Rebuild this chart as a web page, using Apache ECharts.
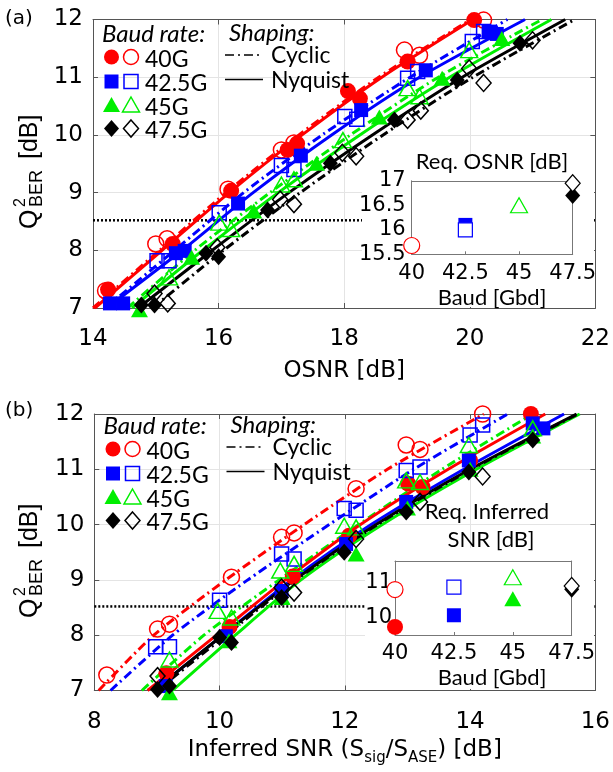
<!DOCTYPE html>
<html><head><meta charset="utf-8">
<script src="https://cdn.jsdelivr.net/npm/echarts@6/dist/echarts.min.js"></script>
<style>html,body{margin:0;padding:0;background:#fff;}#c{width:613px;height:772px;}</style>
</head><body><div id="c"></div>
<script>
// ---------- axis ranges / ticks ----------
const aX = [14, 22, 2];        // OSNR [dB]
const bX = [8, 16, 2];         // Inferred SNR [dB]
const qY = [7, 12, 1];         // Q^2 [dB]
const thrQ = 8.52;             // threshold (dotted)
const insetBaud = [40, 42.5, 45, 47.5];
const iaY = [15.5, 17, 0.5];
const ibY = [9.5, 11.6, 0.5];
const bauds = ['40G', '42.5G', '45G', '47.5G'];

// ---------- panel (a): measured points ----------
const a40N  = [[14.24,7.32],[15.27,8.11],[16.2,9.03],[17.1,9.74],[17.25,9.85],[18.06,10.76],[18.25,10.63],[19.01,11.27],[20.07,11.99]];
const a40C  = [[14.2,7.3],[15.0,8.11],[15.18,8.2],[16.15,9.06],[17.0,9.74],[17.2,9.86],[18.96,11.47],[19.2,11.38],[20.22,11.99]];
const a425N = [[14.27,7.08],[14.48,7.08],[15.32,7.95],[15.46,7.99],[16.31,8.81],[17.31,9.64],[18.27,10.43],[19.3,11.12],[20.3,11.79],[20.43,11.75]];
const a425C = [[15.02,7.82],[15.21,7.82],[16.01,8.65],[17.0,9.47],[17.2,9.4],[18.01,10.32],[18.2,10.27],[19.01,10.98],[19.17,11.1],[20.04,11.62],[20.22,11.79]];
const a45N  = [[14.74,6.97],[15.57,7.88],[16.56,8.68],[17.56,9.51],[18.56,10.31],[19.56,10.98],[20.51,11.67]];
const a45C  = [[15.21,7.53],[16.01,8.48],[16.2,8.37],[17.0,9.14],[17.2,9.23],[17.98,9.91],[19.01,10.81],[19.2,10.67],[19.99,11.47]];
const a475N = [[14.77,7.05],[14.98,7.05],[15.8,7.95],[16.0,7.89],[16.78,8.7],[17.78,9.51],[18.8,10.26],[19.8,10.95],[20.8,11.59]];
const a475C = [[14.98,7.25],[15.19,7.08],[15.98,8.05],[16.98,8.88],[17.2,8.8],[17.97,9.69],[18.19,9.63],[19.01,10.26],[19.22,10.42],[19.99,11.15],[20.22,10.9],[21.0,11.64]];
// ---------- panel (a): fitted curves ----------
const a40NFit  = [[14.03,7],[15.1,8],[16.17,9],[17.33,10],[18.6,11],[20.05,12]];
const a40CFit  = [[14.0,7],[15.06,8],[16.12,9],[17.28,10],[18.55,11],[20.02,12]];
const a425NFit = [[14.22,7],[15.42,8],[16.55,9],[17.8,10],[19.2,11],[20.88,12]];
const a425CFit = [[14.2,7],[15.3,8],[16.4,9],[17.65,10],[19.05,11],[20.6,12]];
const a45NFit  = [[14.62,7],[15.75,8],[16.95,9],[18.25,10],[19.68,11],[21.3,12]];
const a45CFit  = [[14.55,7],[15.62,8],[16.82,9],[18.1,10],[19.5,11],[21.15,12]];
const a475NFit = [[14.72,7],[15.9,8],[17.12,9],[18.45,10],[19.88,11],[21.52,12]];
const a475CFit = [[14.95,7],[16.08,8],[17.3,9],[18.62,10],[20.05,11],[21.67,12]];

// ---------- panel (b): measured points ----------
const b40N  = [[9.15,7.31],[10.16,8.15],[11.17,9.06],[12.07,9.8],[13.01,10.74],[13.24,10.68],[14.0,11.16],[14.97,12.0]];
const b40C  = [[8.2,7.28],[9.01,8.11],[9.2,8.2],[10.19,9.05],[10.99,9.77],[11.19,9.85],[12.18,10.65],[12.98,11.44],[13.2,11.36],[14.2,12.0]];
const b425N = [[9.14,7.08],[10.1,7.98],[10.99,8.8],[12.02,9.65],[12.98,10.41],[13.98,11.16],[15.0,11.83],[15.17,11.74]];
const b425C = [[8.98,7.79],[9.2,7.79],[10.0,8.63],[10.99,9.47],[11.19,9.38],[11.99,10.29],[12.18,10.26],[12.98,10.98],[13.2,11.04],[14.0,11.62],[14.2,11.8]];
const b45N  = [[9.2,6.96],[10.15,7.9],[11.0,8.68],[12.18,9.47],[13.0,10.3],[14.0,11.0],[15.0,11.6]];
const b45C  = [[9.2,7.56],[9.97,8.44],[10.19,8.32],[10.97,9.17],[11.19,9.29],[11.99,9.98],[12.18,9.95],[12.98,10.8],[13.2,10.77],[13.98,11.44],[15.0,11.74]];
const b475N = [[9.01,7.02],[9.2,7.08],[10.0,7.96],[10.19,7.87],[10.99,8.68],[11.99,9.5],[12.98,10.23],[13.98,10.95],[15.0,11.53]];
const b475C = [[9.01,7.26],[10.99,8.86],[11.19,8.77],[12.18,9.74],[13.2,10.41],[14.2,10.87]];
// ---------- panel (b): fitted curves ----------
const b40NFit  = [[8.85,7],[9.95,8],[11.05,9],[12.25,10],[13.65,11],[15.2,12]];
const b40CFit  = [[8.07,7],[8.95,8],[10.1,9],[11.35,10],[12.68,11],[14.22,12]];
const b425NFit = [[8.95,7],[10.05,8],[11.15,9],[12.42,10],[13.9,11],[15.5,12]];
const b425CFit = [[8.26,7],[9.25,8],[10.45,9],[11.75,10],[13.1,11],[14.6,12]];
const b45NFit  = [[9.25,7],[10.25,8],[11.3,9],[12.6,10],[14.1,11],[15.75,12]];
const b45CFit  = [[8.76,7],[9.75,8],[10.95,9],[12.22,10],[13.55,11],[15.0,12]];
const b475NFit = [[8.95,7],[10.05,8],[11.2,9],[12.5,10],[14.0,11],[15.7,12]];
const b475CFit = [[9.0,7],[10.1,8],[11.22,9],[12.52,10],[14.02,11],[15.72,12]];

// ---------- insets: required OSNR / inferred SNR ----------
const iaReqN = [15.68, 16.1, 16.5, 16.7];
const iaReqC = [15.68, 16.0, 16.5, 16.95];
const ibReqN = [9.73, 10.06, 10.53, 10.8];
const ibReqC = [10.79, 10.86, 11.14, 10.89];

// ---------- styling ----------
const COL = ['#ff0000', '#0000ff', '#00ee00', '#000000'];
const SYM = ['circle', 'rect', 'triangle', 'diamond'];
const SZ  = [16, 14, [17, 15], [15, 17]];
const DASHDOT = [9, 4, 2, 4];
const AX = 'DejaVu Sans', LG = 'Lato';
const axCol = '#555';

function fit(xi, data, k, dashed) {
  return { type: 'line', xAxisIndex: xi, yAxisIndex: xi, data, smooth: 0.25,
    showSymbol: false, symbol: 'none', clip: true, silent: true, z: 2,
    lineStyle: { color: COL[k], width: 3, type: dashed ? DASHDOT : 'solid' } };
}
function pts(xi, data, k, filled, z) {
  return { type: 'scatter', xAxisIndex: xi, yAxisIndex: xi, data, symbol: SYM[k], symbolSize: SZ[k],
    clip: false, silent: true, z: z || 3,
    itemStyle: filled ? { color: COL[k], opacity: 1 }
                      : { color: 'rgba(255,255,255,0)', borderColor: COL[k], borderWidth: 1.5, opacity: 1 } };
}
function thr(xi, rng) {
  return { type: 'line', xAxisIndex: xi, yAxisIndex: xi, data: [[rng[0], thrQ], [rng[1], thrQ]],
    showSymbol: false, symbol: 'none', silent: true, z: 1,
    lineStyle: { color: '#000', width: 2.5, type: [2, 2] } };
}
function insetPts(xi, reqN, reqC) {
  const out = [];
  for (let i = 0; i < 4; i++) {
    out.push({ type: 'scatter', xAxisIndex: xi, yAxisIndex: xi, data: [[insetBaud[i], reqN[i]]],
      symbol: SYM[i], symbolSize: SZ[i], clip: false, silent: true, z: 21,
      itemStyle: { color: COL[i], opacity: 1 } });
  }
  for (let i = 0; i < 4; i++) {
    out.push({ type: 'scatter', xAxisIndex: xi, yAxisIndex: xi, data: [[insetBaud[i], reqC[i]]],
      symbol: SYM[i], symbolSize: SZ[i], clip: false, silent: true, z: 22,
      itemStyle: { color: '#ffffff', borderColor: COL[i], borderWidth: 1.2, opacity: 1 } });
  }
  return out;
}

const lbl = { fontFamily: AX, fontSize: 23, color: '#000' };
function mainX(grid, r, pos, name, nameOpt) {
  const o = { gridIndex: grid, type: 'value', min: r[0], max: r[1], interval: r[2], position: pos,
    axisLine: { show: true, onZero: false, lineStyle: { color: axCol, width: 1 } },
    axisTick: { show: true, inside: true, length: 5, lineStyle: { color: axCol } },
    axisLabel: Object.assign({ show: pos === 'bottom', margin: 20 }, lbl),
    splitLine: { show: pos === 'bottom', lineStyle: { color: '#e4e4e4', width: 1 } } };
  if (name) Object.assign(o, { name, nameLocation: 'middle' }, nameOpt);
  return o;
}
function mainY(grid, r, pos) {
  return { gridIndex: grid, type: 'value', min: r[0], max: r[1], interval: r[2], position: pos,
    axisLine: { show: true, onZero: false, lineStyle: { color: axCol, width: 1 } },
    axisTick: { show: true, inside: true, length: 5, lineStyle: { color: axCol } },
    axisLabel: Object.assign({ show: pos === 'left', margin: 10 }, lbl),
    splitLine: { show: pos === 'left', lineStyle: { color: '#e4e4e4', width: 1 } } };
}
function insX(grid, pos, margin) {
  return { gridIndex: grid, type: 'value', min: insetBaud[0], max: insetBaud[3], interval: 2.5, position: pos, z: 20,
    axisLine: { show: true, onZero: false, lineStyle: { color: '#777', width: 1 } },
    axisTick: { show: pos === 'bottom', inside: true, length: 3, lineStyle: { color: '#777' } },
    axisLabel: { show: pos === 'bottom', margin, fontFamily: AX, fontSize: 21, color: '#000' },
    splitLine: { show: false } };
}
function insY(grid, r, pos, margin, fmt) {
  return { gridIndex: grid, type: 'value', min: r[0], max: r[1], interval: r[2], position: pos, z: 20,
    axisLine: { show: true, onZero: false, lineStyle: { color: '#777', width: 1 } },
    axisTick: { show: false },
    axisLabel: { show: pos === 'left', margin, fontFamily: AX, fontSize: 21, color: '#000', formatter: fmt, showMaxLabel: true },
    splitLine: { show: false } };
}
const intOnly = v => (Math.abs(v - Math.round(v)) < 1e-6 ? String(Math.round(v)) : '');

// ---------- legend + annotations (graphic) ----------
function marker(k, cx, cy, filled) {
  const st = filled ? { fill: COL[k] } : { fill: 'none', stroke: COL[k], lineWidth: 1.5 };
  if (k === 0) return { type: 'circle', shape: { cx, cy, r: 7.5 }, style: st, z: 30 };
  if (k === 1) return { type: 'rect', shape: { x: cx - 7, y: cy - 7, width: 14, height: 14 }, style: st, z: 30 };
  if (k === 2) return { type: 'polygon', shape: { points: [[cx, cy - 8], [cx + 8.5, cy + 7], [cx - 8.5, cy + 7]] }, style: st, z: 30 };
  return { type: 'polygon', shape: { points: [[cx, cy - 8.5], [cx + 7.5, cy], [cx, cy + 8.5], [cx - 7.5, cy]] }, style: st, z: 30 };
}
function txt(x, y, text, font, align) {
  return { type: 'text', x, y, z: 30, silent: true,
    style: { text, font, fill: '#000', textAlign: align || 'left', textVerticalAlign: 'middle', align: align || 'left', verticalAlign: 'middle' } };
}
function legend(dx, dy) {
  const g = [];
  g.push(txt(102 + dx, 34 + dy, 'Baud rate:', 'italic 24px ' + LG));
  const rows = [57, 81.5, 105, 128.5];
  for (let k = 0; k < 4; k++) {
    g.push(marker(k, 111.5 + dx, rows[k] + dy, true));
    g.push(marker(k, 131 + dx, rows[k] + dy, false));
    g.push(txt(145 + dx, rows[k] + 2.5 + dy, bauds[k], '23px ' + LG));
  }
  g.push(txt(229 + dx, 33 + dy, 'Shaping:', 'italic 24px ' + LG));
  g.push({ type: 'line', z: 30, shape: { x1: 225 + dx, y1: 55 + dy, x2: 263 + dx, y2: 55 + dy }, style: { stroke: '#000', lineWidth: 1.5, lineDash: DASHDOT } });
  g.push({ type: 'line', z: 30, shape: { x1: 225 + dx, y1: 79.5 + dy, x2: 263 + dx, y2: 79.5 + dy }, style: { stroke: '#000', lineWidth: 1.5 } });
  g.push(txt(271 + dx, 56 + dy, 'Cyclic', '23px ' + LG));
  g.push(txt(271 + dx, 80.5 + dy, 'Nyquist', '23px ' + LG));
  return g;
}
function yTitle(cx, y0) {
  const st = (text, size) => ({ text, font: size + 'px "Liberation Sans"', fill: '#000', textAlign: 'left', textVerticalAlign: 'middle', align: 'left', verticalAlign: 'middle' });
  return { type: 'group', x: cx, y: y0, rotation: Math.PI / 2, z: 30, children: [
    { type: 'text', x: 0, y: 0, style: st('Q', 25) },
    { type: 'text', x: 22, y: -9, style: st('2', 16) },
    { type: 'text', x: 22, y: 7, style: st('BER', 18) },
    { type: 'text', x: 70, y: 0, style: st('[dB]', 25) }
  ] };
}

const graphic = [
  // white backgrounds of the insets
  { type: 'rect', z: 10, silent: true, shape: { x: 362, y: 170, width: 232, height: 137 }, style: { fill: '#fff' } },
  { type: 'rect', z: 10, silent: true, shape: { x: 365, y: 548, width: 229, height: 141 }, style: { fill: '#fff' } },
  txt(5, 19, '(a)', '20px "DejaVu Sans"'),
  txt(5, 411, '(b)', '20px "DejaVu Sans"'),
  yTitle(30, 229),
  yTitle(30, 618),
  txt(492, 162, 'Req. OSNR [dB]', '22px ' + LG, 'center'),
  txt(492, 298, 'Baud [Gbd]', '22px ' + LG, 'center'),
  txt(487, 512, 'Req. Inferred', '22px ' + LG, 'center'),
  txt(491, 540, 'SNR [dB]', '22px ' + LG, 'center'),
  txt(492, 678, 'Baud [Gbd]', '22px ' + LG, 'center')
].concat(legend(0, 0), legend(1.5, 392));

const option = {
  animation: false,
  backgroundColor: '#fff',
  grid: [
    { left: 93, top: 19.5, width: 506, height: 288.5 },
    { left: 94.3, top: 414, width: 503, height: 276.5 },
    { left: 411.7, top: 180.8, width: 161, height: 73.5 },
    { left: 395, top: 561, width: 176.7, height: 74 }
  ],
  xAxis: [
    mainX(0, aX, 'bottom', 'OSNR [dB]', { nameGap: 52, nameTextStyle: { fontFamily: AX, fontSize: 23, color: '#000' } }),
    mainX(1, bX, 'bottom', '{n|Inferred SNR (S}{s|sig}{n|/S}{s|ASE}{n|) [dB]}', { nameGap: 45, nameTextStyle: { rich: {
        n: { fontFamily: AX, fontSize: 23, color: '#000', lineHeight: 30 },
        s: { fontFamily: AX, fontSize: 15, color: '#000', lineHeight: 14, verticalAlign: 'bottom' } } } }),
    insX(2, 'bottom', 9),
    insX(3, 'bottom', 8),
    mainX(0, aX, 'top'), mainX(1, bX, 'top'), insX(2, 'top', 0), insX(3, 'top', 0)
  ],
  yAxis: [
    mainY(0, qY, 'left'), mainY(1, qY, 'left'),
    insY(2, iaY, 'left', 6), insY(3, ibY, 'left', 3, intOnly),
    mainY(0, qY, 'right'), mainY(1, qY, 'right'), insY(2, iaY, 'right', 0), insY(3, ibY, 'right', 0)
  ],
  series: [
    thr(0, [aX[0], aX[1]]), thr(1, [bX[0], bX[1]]),
    fit(0, a40NFit, 0, false), fit(0, a40CFit, 0, true),
    fit(0, a425NFit, 1, false), fit(0, a425CFit, 1, true),
    fit(0, a45NFit, 2, false), fit(0, a45CFit, 2, true),
    fit(0, a475NFit, 3, false), fit(0, a475CFit, 3, true),
    pts(0, a40N, 0, true), pts(0, a40C, 0, false),
    pts(0, a425N, 1, true), pts(0, a425C, 1, false),
    pts(0, a45N, 2, true), pts(0, a45C, 2, false),
    pts(0, a475N, 3, true), pts(0, a475C, 3, false),
    fit(1, b40CFit, 0, true), fit(1, b425CFit, 1, true), fit(1, b45CFit, 2, true),
    fit(1, b45NFit, 2, false), fit(1, b40NFit, 0, false), fit(1, b425NFit, 1, false),
    fit(1, b475NFit, 3, false), fit(1, b475CFit, 3, true),
    pts(1, b40N, 0, true), pts(1, b40C, 0, false),
    pts(1, b425N, 1, true), pts(1, b425C, 1, false),
    pts(1, b45N, 2, true), pts(1, b45C, 2, false),
    pts(1, b475N, 3, true), pts(1, b475C, 3, false)
  ].concat(insetPts(2, iaReqN, iaReqC), insetPts(3, ibReqN, ibReqC)),
  graphic
};

const chart = echarts.init(document.getElementById('c'), null, { renderer: 'canvas' });
chart.setOption(option);
</script></body></html>
